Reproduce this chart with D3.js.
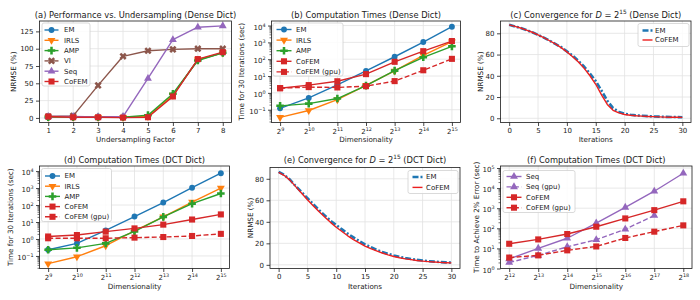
<!DOCTYPE html>
<html><head><meta charset="utf-8">
<script src="https://cdn.jsdelivr.net/npm/d3@7"></script>
<style>
body{margin:0;background:#fff}
text{font-family:"DejaVu Sans",sans-serif;fill:#1a1a1a}
</style>
</head><body><svg id="c" width="700" height="300"></svg>
<script>
// ---------- DATA ----------
const factors = [1,2,3,4,5,6,7,8];
const aEM    = [1.0, 1.0, 0.8, 0.8, 2.0, 33, 84, 94];
const aIRLS  = [1.0, 1.0, 0.8, 0.8, 2.0, 33, 84, 94];
const aAMP   = [1.2, 1.2, 1.0, 1.0, 4.0, 35, 83, 94];
const aVI    = [2, 3, 47, 89, 97, 99, 100, 100];
const aSeq   = [2, 2, 1.5, 2, 57, 113, 131, 133];
const aCoFEM = [2, 1, 1, 0.5, 1, 31, 85, 95];

const dimsB = [512,1024,2048,4096,8192,16384,32768];
const bEM       = [0.12,0.5,3,20,140,1050,8500];
const bIRLS     = [0.035,0.09,0.4,2.8,20,170,1100];
const bAMP      = [0.17,0.23,0.46,2.7,21,130,580];
const bCoFEM    = [1.9,2.9,4.9,13,70,300,1200];
const bCoFEMgpu = [1.9,2.2,2.1,2.5,5,22,105];

const iters = [0,1,2,3,4,5,6,7,8,9,10,11,12,13,14,15,16,17,18,19,20,21,22,23,24,25,26,27,28,29,30];
const cEM    = [88,86.5,85,83,81,78.5,76,73,70,67,63,59,54,48.5,42,35,26,16.5,9.5,6,4.2,3.3,2.7,2.3,2,1.7,1.5,1.3,1.2,1.1,1];
const cCoFEM = [88,86.5,85,83,81,78.5,76,73,70,66.5,62.5,58,53,47,40,32,22,13,7.5,5,3.5,2.8,2.3,2,1.7,1.5,1.3,1.1,1,0.9,0.8];

const dEM       = [0.23,0.55,3.2,21,140,1050,7500];
const dIRLS     = [0.035,0.09,0.4,3,20,150,1000];
const dAMP      = [0.23,0.3,0.55,2.8,20,120,480];
const dCoFEM    = [1.4,1.7,2.7,4.2,7,14,28];
const dCoFEMgpu = [1.1,1.1,1.1,1.2,1.3,1.5,2.0];

const eEM    = [86.5,83.5,79,73,67.5,62,56.5,51,46,41,37,33,29,25.5,22,19,16.5,14,12,10.3,8.7,7.4,6.3,5.4,4.6,4,3.4,3,2.6,2.3,2];
const eCoFEM = [86,83,78.5,72.5,66.5,60.5,55,49.5,44.5,39.5,35,31,27,23.5,20.5,17.5,15,13,11,9.3,7.8,6.6,5.6,4.8,4.1,3.5,3,2.6,2.3,2,1.8];

const dimsF = [4096,8192,16384,32768,65536,131072,262144];
const dimsFgpu = [4096,8192,16384,32768,65536,131072];
const fSeq       = [3,10,32,180,1100,7000,55000];
const fSeqgpu    = [2,4.5,12,27,90,430];
const fCoFEM     = [17,28,52,120,310,800,2200];
const fCoFEMgpu  = [3.5,4.5,8,12.5,33,68,140];

const pow2Ticks9  = [512,1024,2048,4096,8192,16384,32768];
const pow2Ticks12 = [4096,8192,16384,32768,65536,131072,262144];
const decTicksB = [0.1,1,10,100,1000,10000];
const decTicksF = [1,10,100,1000,10000,100000];

// ---------- HELPERS ----------
const svg = d3.select('#c');
const COL = {blue:'#1f77b4', orange:'#ff7f0e', green:'#2ca02c', red:'#d62728', purple:'#9467bd', brown:'#8c564b', red2:'#ec1f1f'};
const FS = 7;
const LFS = 7.2;

function rich(t, parts, fs) {
  let up = 0;
  parts.forEach(p => {
    const ts = t.append('tspan').text(p.t);
    if (p.sup) { ts.attr('font-size', fs*0.7).attr('dy', -fs*0.42); up = fs*0.42; }
    else if (up) { ts.attr('dy', up); up = 0; }
    if (p.it) ts.attr('font-style','italic');
  });
}
const pow2fmt = d => [{t:'2'},{t:String(Math.round(Math.log2(d))),sup:true}];
const pow10fmt = d => { const e = Math.round(Math.log10(d)); return [{t:'10'},{t:(e<0?'\u2212':'')+Math.abs(e),sup:true}]; };
const numfmt = d => [{t:String(d)}];

function marker(sel, type, cx, cy, color) {
  let p, rot = 0;
  switch(type) {
    case 'o': p = d3.symbol(d3.symbolCircle, 27)(); break;
    case 's': p = d3.symbol(d3.symbolSquare, 37)(); break;
    case '^': p = d3.symbol(d3.symbolTriangle, 27)(); break;
    case 'v': p = d3.symbol(d3.symbolTriangle, 27)(); rot = 180; break;
    case 'P': p = d3.symbol(d3.symbolCross, 32)(); break;
    case 'X': p = d3.symbol(d3.symbolCross, 32)(); rot = 45; break;
    default: return;
  }
  sel.append('path').attr('d', p).attr('fill', color)
    .attr('transform', `translate(${cx},${cy}) rotate(${rot})`);
}

function panel(cfg) {
  const g = svg.append('g');
  const [x0,x1,y0,y1] = cfg.box;
  const x = (cfg.xlog ? d3.scaleLog().base(2) : d3.scaleLinear()).domain(cfg.xdom).range([x0,x1]);
  const y = (cfg.ylog ? d3.scaleLog() : d3.scaleLinear()).domain(cfg.ydom).range([y1,y0]);

  // grid
  const grid = g.append('g').attr('stroke','#e2e2e2').attr('stroke-width',0.8);
  cfg.xticks.forEach(d => grid.append('line').attr('x1',x(d)).attr('x2',x(d)).attr('y1',y0).attr('y2',y1));
  cfg.yticks.forEach(d => grid.append('line').attr('y1',y(d)).attr('y2',y(d)).attr('x1',x0).attr('x2',x1));

  // axes
  const xa = g.append('g').attr('transform',`translate(0,${y1})`)
    .call(d3.axisBottom(x).tickValues(cfg.xticks).tickSize(3.5).tickPadding(2.5).tickSizeOuter(0));
  const ya = g.append('g').attr('transform',`translate(${x0},0)`)
    .call(d3.axisLeft(y).tickValues(cfg.yticks).tickSize(3.5).tickPadding(2.5).tickSizeOuter(0));
  [xa,ya].forEach(a => { a.select('.domain').remove(); a.attr('font-size',FS).attr('font-family','DejaVu Sans').attr('color','#1a1a1a');
    a.selectAll('.tick line').attr('stroke-width',0.8); });
  xa.selectAll('.tick text').each(function(d){ const t = d3.select(this); t.text(null); if (cfg.xlog) t.attr('dy','0.8em'); rich(t, cfg.xfmt(d), FS); });
  ya.selectAll('.tick text').each(function(d){ const t = d3.select(this); t.text(null); if (cfg.ylog) t.attr('dy','0.5em'); rich(t, cfg.yfmt(d), FS); });
  if (cfg.ylog) {
    const lo = Math.floor(Math.log10(cfg.ydom[0])), hi = Math.ceil(Math.log10(cfg.ydom[1]));
    const minor = [];
    for (let e = lo; e < hi; e++) for (let k = 2; k < 10; k++) { const v = k*Math.pow(10,e); if (v>cfg.ydom[0] && v<cfg.ydom[1]) minor.push(v); }
    const ma = g.append('g').attr('transform',`translate(${x0},0)`)
      .call(d3.axisLeft(y).tickValues(minor).tickSize(2).tickFormat('').tickSizeOuter(0));
    ma.select('.domain').remove(); ma.attr('color','#1a1a1a'); ma.selectAll('line').attr('stroke-width',0.6);
  }

  // series
  cfg.series.forEach(s => {
    const pts = s.x.map((xv,i) => [x(xv), y(s.y[i])]);
    g.append('path').attr('d', d3.line()(pts)).attr('fill','none').attr('stroke', s.color)
      .attr('stroke-width', s.w || 1.4).attr('stroke-dasharray', s.dash || null).attr('stroke-linejoin','round');
    pts.forEach(p => marker(g, s.m, p[0], p[1], s.color));
  });

  // spines
  g.append('rect').attr('x',x0).attr('y',y0).attr('width',x1-x0).attr('height',y1-y0)
    .attr('fill','none').attr('stroke','#1a1a1a').attr('stroke-width',0.8);

  // title & labels
  const tt = g.append('text').attr('x',(x0+x1)/2).attr('y',cfg.titleY).attr('text-anchor','middle').attr('font-size',8.3);
  rich(tt, cfg.title, 8.3);
  g.append('text').attr('x',(x0+x1)/2).attr('y',cfg.xlabY).attr('text-anchor','middle').attr('font-size',LFS).text(cfg.xlab);
  g.append('text').attr('transform',`translate(${cfg.ylabX},${(y0+y1)/2}) rotate(-90)`).attr('dy','0.35em')
    .attr('text-anchor','middle').attr('font-size',LFS).text(cfg.ylab);

  // legend
  const L = cfg.legend;
  const lg = g.append('g');
  lg.append('rect').attr('x',L.x).attr('y',L.y).attr('width',L.w).attr('height',L.h).attr('rx',2)
    .attr('fill','#fff').attr('fill-opacity',0.85).attr('stroke','#d0d0d0').attr('stroke-width',0.8);
  cfg.series.forEach((s,i) => {
    const yy = L.y + L.first + i*L.row;
    lg.append('line').attr('x1',L.x+L.h0).attr('x2',L.x+L.h1).attr('y1',yy).attr('y2',yy)
      .attr('stroke',s.color).attr('stroke-width',s.w||1.4).attr('stroke-dasharray',s.dash||null);
    marker(lg, s.m, L.x+(L.h0+L.h1)/2, yy, s.color);
    lg.append('text').attr('x',L.x+L.tx).attr('y',yy).attr('dy','0.35em').attr('font-size',FS).text(s.name);
  });
}

const DASH = '5,2.4';
const topRow = {titleY:17.5, xlabY:142};
const botRow = {titleY:162.5, xlabY:288.5};

// (a)
panel({box:[39.5,231.5,21,122.5], xdom:[0.65,8.35], ydom:[-6.6,140], xticks:factors, yticks:[0,25,50,75,100,125],
  xfmt:numfmt, yfmt:numfmt, title:[{t:'(a) Performance vs. Undersampling (Dense Dict)'}], ...topRow,
  xlab:'Undersampling Factor', ylab:'NRMSE (%)', ylabX:13,
  series:[
    {name:'EM', x:factors, y:aEM, color:COL.blue, m:'o'},
    {name:'IRLS', x:factors, y:aIRLS, color:COL.orange, m:'v'},
    {name:'AMP', x:factors, y:aAMP, color:COL.green, m:'P'},
    {name:'VI', x:factors, y:aVI, color:COL.brown, m:'X'},
    {name:'Seq', x:factors, y:aSeq, color:COL.purple, m:'^'},
    {name:'CoFEM', x:factors, y:aCoFEM, color:COL.red, m:'s'}],
  legend:{x:42,y:23,w:48,h:63,first:7,row:10.3,h0:2.5,h1:16.5,tx:22}});

// (b)
panel({box:[271.5,460.5,21,122.5], xlog:true, ylog:true, xdom:[Math.pow(2,8.7),Math.pow(2,15.3)], ydom:[Math.pow(10,-1.76),Math.pow(10,4.27)],
  xticks:pow2Ticks9, yticks:decTicksB, xfmt:pow2fmt, yfmt:pow10fmt, title:[{t:'(b) Computation Times (Dense Dict)'}], ...topRow,
  xlab:'Dimensionality', ylab:'Time for 30 Iterations (sec)', ylabX:241.5,
  series:[
    {name:'EM', x:dimsB, y:bEM, color:COL.blue, m:'o'},
    {name:'IRLS', x:dimsB, y:bIRLS, color:COL.orange, m:'v'},
    {name:'AMP', x:dimsB, y:bAMP, color:COL.green, m:'P'},
    {name:'CoFEM', x:dimsB, y:bCoFEM, color:COL.red, m:'s'},
    {name:'CoFEM (gpu)', x:dimsB, y:bCoFEMgpu, color:COL.red, m:'s', dash:DASH}],
  legend:{x:273,y:23,w:70,h:53,first:6.5,row:10.6,h0:3.5,h1:18.5,tx:23}});

// (c)
panel({box:[500.5,691,21,122.5], xdom:[-1.5,31.5], ydom:[-4,91.6], xticks:[0,5,10,15,20,25,30], yticks:[0,20,40,60,80],
  xfmt:numfmt, yfmt:numfmt, title:[{t:'(c) Convergence for '},{t:'D',it:true},{t:' = 2'},{t:'15',sup:true},{t:' (Dense Dict)'}], ...topRow,
  xlab:'Iterations', ylab:'NRMSE (%)', ylabX:480,
  series:[
    {name:'EM', x:iters, y:cEM, color:COL.blue, m:'', w:2.6, dash:'6,2,2,2'},
    {name:'CoFEM', x:iters, y:cCoFEM, color:COL.red2, m:'', w:1.4}],
  legend:{x:638,y:23.5,w:51,h:23,first:7,row:9.5,h0:4.5,h1:14.5,tx:17}});

// (d)
panel({box:[39.5,229.5,166,268.5], xlog:true, ylog:true, xdom:[Math.pow(2,8.7),Math.pow(2,15.3)], ydom:[Math.pow(10,-1.74),Math.pow(10,4.3)],
  xticks:pow2Ticks9, yticks:decTicksB, xfmt:pow2fmt, yfmt:pow10fmt, title:[{t:'(d) Computation Times (DCT Dict)'}], ...botRow,
  xlab:'Dimensionality', ylab:'Time for 30 Iterations (sec)', ylabX:10,
  series:[
    {name:'EM', x:dimsB, y:dEM, color:COL.blue, m:'o'},
    {name:'IRLS', x:dimsB, y:dIRLS, color:COL.orange, m:'v'},
    {name:'AMP', x:dimsB, y:dAMP, color:COL.green, m:'P'},
    {name:'CoFEM', x:dimsB, y:dCoFEM, color:COL.red, m:'s'},
    {name:'CoFEM (gpu)', x:dimsB, y:dCoFEMgpu, color:COL.red, m:'s', dash:DASH}],
  legend:{x:41.5,y:168.5,w:70,h:53,first:7.5,row:10.2,h0:3.5,h1:18.5,tx:23}});

// (e)
panel({box:[270,460,167.5,268.5], xdom:[-1.5,31.5], ydom:[-3.4,90.5], xticks:[0,5,10,15,20,25,30], yticks:[0,20,40,60,80],
  xfmt:numfmt, yfmt:numfmt, title:[{t:'(e) Convergence for '},{t:'D',it:true},{t:' = 2'},{t:'15',sup:true},{t:' (DCT Dict)'}], ...botRow,
  xlab:'Iterations', ylab:'NRMSE (%)', ylabX:250,
  series:[
    {name:'EM', x:iters, y:eEM, color:COL.blue, m:'', w:2.6, dash:'6,2,2,2'},
    {name:'CoFEM', x:iters, y:eCoFEM, color:COL.red2, m:'', w:1.4}],
  legend:{x:408,y:170.5,w:50,h:23,first:6.5,row:10.4,h0:4.5,h1:14.5,tx:18}});

// (f)
panel({box:[500.5,692,166,268.5], xlog:true, ylog:true, xdom:[Math.pow(2,11.7),Math.pow(2,18.3)], ydom:[1,Math.pow(10,5.1)],
  xticks:pow2Ticks12, yticks:decTicksF, xfmt:pow2fmt, yfmt:pow10fmt, title:[{t:'(f) Computation Times (DCT Dict)'}], ...botRow,
  xlab:'Dimensionality', ylab:'Time to Achieve 2% Error (sec)', ylabX:476,
  series:[
    {name:'Seq', x:dimsF, y:fSeq, color:COL.purple, m:'^'},
    {name:'Seq (gpu)', x:dimsFgpu, y:fSeqgpu, color:COL.purple, m:'^', dash:DASH},
    {name:'CoFEM', x:dimsF, y:fCoFEM, color:COL.red, m:'s'},
    {name:'CoFEM (gpu)', x:dimsF, y:fCoFEMgpu, color:COL.red, m:'s', dash:DASH}],
  legend:{x:503,y:170.5,w:72,h:42,first:6,row:10.4,h0:3.5,h1:18.5,tx:23}});
</script>
</body></html>
